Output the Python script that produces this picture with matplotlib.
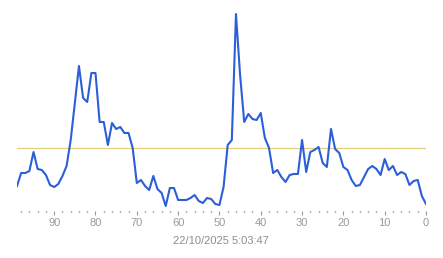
import numpy as np
import matplotlib
matplotlib.use('Agg')
import matplotlib.pyplot as plt
from matplotlib.ticker import MultipleLocator, FixedLocator

# x axis runs backwards: 99 ... 0 (most recent at right)
ages = list(range(99, -1, -1))
values = [
    25, 38, 38, 40, 59, 42, 41, 36, 26, 24,      # 99..90
    27, 35, 45, 71, 108, 145, 113, 109, 138, 138,  # 89..80
    89, 89, 66, 88, 82, 84, 78, 78, 63, 28,       # 79..70
    31, 25, 21, 35, 22, 18, 5, 23, 23, 11,        # 69..60
    11, 11, 13, 16, 10, 8, 13, 12, 7, 6,          # 59..50
    24, 66, 71, 197, 136, 89, 97, 92, 91, 98,     # 49..40
    73, 63, 38, 41, 34, 29, 36, 37, 37, 71,       # 39..30
    39, 59, 61, 64, 48, 44, 82, 62, 58, 44,       # 29..20
    41, 31, 25, 26, 34, 42, 45, 42, 36, 52,       # 19..10
    41, 45, 36, 39, 37, 26, 30, 31, 15, 7,        # 9..0
]
threshold = 63
timestamp = '22/10/2025 5:03:47'

LINE = '#2b5fd9'
REF = '#e2d17e'
GREY = '#9a9a9a'

plt.rcParams['font.family'] = ['Liberation Sans', 'DejaVu Sans']

fig = plt.figure(figsize=(4.43, 2.58), dpi=100)
ax = fig.add_axes([17 / 443, 1 - 211 / 258, 409 / 443, 211 / 258])

ax.axhline(threshold, color=REF, lw=0.9, zorder=1)
ax.plot(ages, values, color=LINE, lw=1.5, zorder=2)

ax.set_xlim(99, 0)
ax.set_ylim(0, 211)
for sp in ax.spines.values():
    sp.set_visible(False)

ax.xaxis.set_major_locator(MultipleLocator(10))
ax.xaxis.set_minor_locator(FixedLocator([a for a in range(2, 99, 2) if a % 10]))
ax.tick_params(axis='x', which='major', direction='out', length=3,
               width=0.8, color=GREY, labelcolor=GREY, labelsize=8, pad=2)
ax.tick_params(axis='x', which='minor', direction='out', length=1,
               width=1, color='#666666')
ax.set_yticks([])

fig.text(221 / 443, 1 - 241 / 258, timestamp, ha='center', va='center',
         color='#8c8c8c', fontsize=8)

plt.savefig('out.png', dpi=100, facecolor='white')
plt.close()
